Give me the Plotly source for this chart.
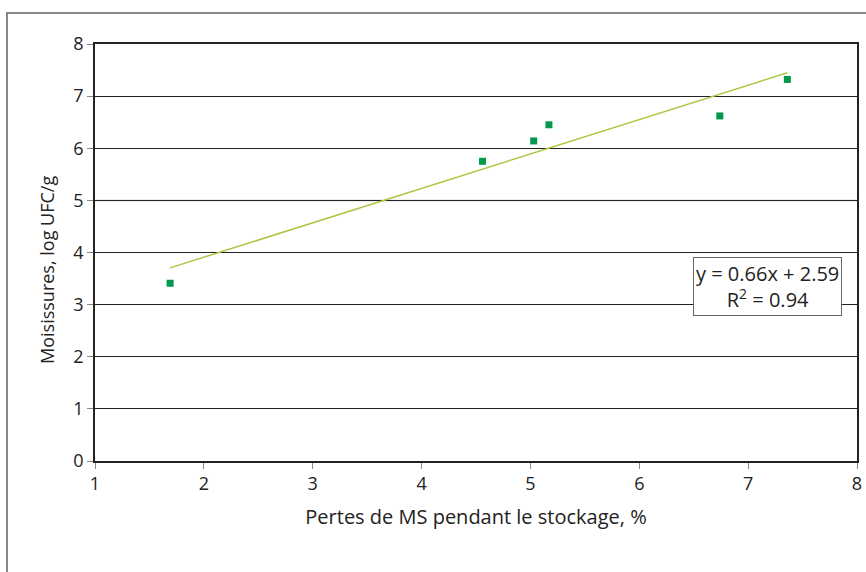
import plotly.graph_objects as go

# Data
pertes_ms = [1.69, 4.56, 5.03, 5.17, 6.74, 7.36]
moisissures = [3.41, 5.75, 6.14, 6.45, 6.62, 7.32]
slope = 0.66
intercept = 2.59
r2 = 0.94
x_ticks = [1, 2, 3, 4, 5, 6, 7, 8]
y_ticks = [0, 1, 2, 3, 4, 5, 6, 7, 8]
light_grid_value = 5

trend_x = [min(pertes_ms), max(pertes_ms)]
trend_y = [slope * v + intercept for v in trend_x]

fig = go.Figure()
fig.add_trace(go.Scatter(x=trend_x, y=trend_y, mode="lines",
                         line=dict(color="#a9c840", width=1.5), showlegend=False))
fig.add_trace(go.Scatter(x=pertes_ms, y=moisissures, mode="markers",
                         marker=dict(symbol="square", size=7, color="#009a4a",
                                     line=dict(width=0)), showlegend=False))

font = "Open Sans, Noto Sans, sans-serif"
W, H = 866, 572
fig.update_layout(
    width=W, height=H,
    margin=dict(l=95, r=9, t=44, b=111, autoexpand=False),
    paper_bgcolor="white", plot_bgcolor="white",
    font=dict(family=font, size=18, color="#222"),
    xaxis=dict(range=[1, 8], tickvals=x_ticks, showgrid=False, zeroline=False,
               showline=True, linecolor="#222", linewidth=1.5, mirror=True,
               ticks="outside", ticklen=6, tickcolor="#888", automargin=False,
               tickfont=dict(size=18), ticklabeloverflow="allow",
               title=dict(text="Pertes de MS pendant le stockage, %", standoff=16,
                          font=dict(size=20))),
    yaxis=dict(range=[0, 8], tickvals=y_ticks, showgrid=True, gridcolor="#222",
               gridwidth=1, zeroline=False, automargin=False,
               showline=True, linecolor="#222", linewidth=1.5, mirror=True,
               ticks="outside", ticklen=6, tickcolor="#888",
               tickfont=dict(size=18)),
    shapes=[dict(type="rect", xref="paper", yref="paper",
                 x0=(7 - 95) / 762, x1=1.05, y0=-0.35, y1=(461 - 13) / 417,
                 line=dict(color="#888", width=2), fillcolor="rgba(0,0,0,0)",
                 layer="below"),
            dict(type="line", xref="paper", yref="y", x0=0, x1=1,
                 y0=light_grid_value, y1=light_grid_value,
                 line=dict(color="#dcdcdc", width=2), layer="between")],
    annotations=[dict(xref="paper", yref="paper",
                      x=(767.5 - 95) / 762, y=(461 - 286.5) / 417,
                      xanchor="center", yanchor="middle",
                      text=f"y = {slope:.2f}x + {intercept:.2f}<br>R<sup>2</sup> = {r2:.2f}",
                      showarrow=False, align="center",
                      font=dict(size=20, color="#222"),
                      bgcolor="white", bordercolor="#666", borderwidth=1,
                      borderpad=2),
                 dict(xref="paper", yref="paper",
                      x=(47 - 95) / 762, y=(461 - 270) / 417,
                      xanchor="center", yanchor="middle", textangle=-90,
                      text="Moisissures, log UFC/g", showarrow=False,
                      font=dict(size=18, color="#222"))],
)

fig.write_html("out.html", config={"responsive": False, "displayModeBar": False},
               post_script="document.body.style.margin='0';document.body.style.overflow='hidden';")
